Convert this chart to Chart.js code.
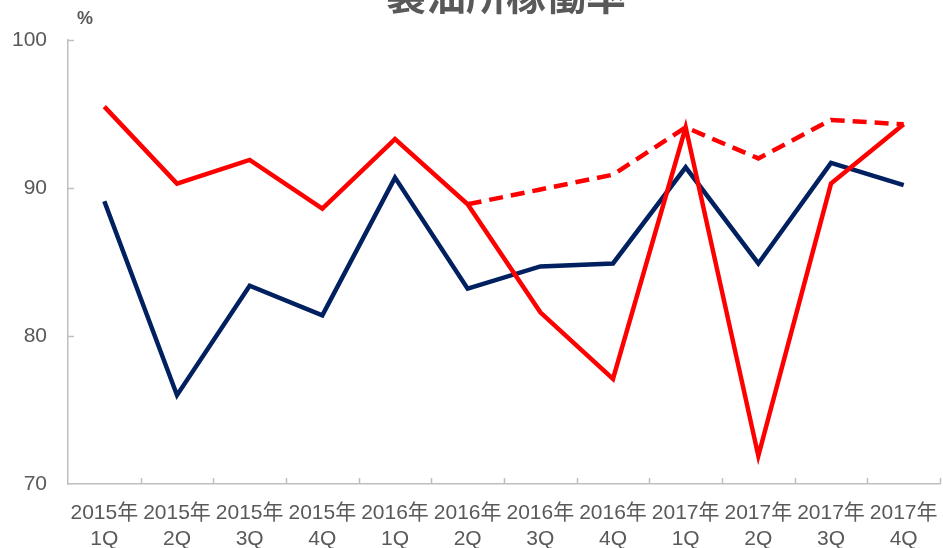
<!DOCTYPE html>
<html>
<head>
<meta charset="utf-8">
<script src="https://cdn.jsdelivr.net/npm/chart.js@4/dist/chart.umd.min.js"></script>
<style>
    body { margin: 0; background: #fff; }
    #wrap { width: 943px; height: 548px; }
</style>
</head>
<body>
<div id="wrap"><canvas id="chart" width="943" height="548"></canvas></div>
<script>
// --- Data ---
const TITLE = '製油所稼働率';
const UNIT = '%';
const years = ['2015年', '2015年', '2015年', '2015年', '2016年', '2016年', '2016年', '2016年', '2017年', '2017年', '2017年', '2017年'];
const quarters = ['1Q', '2Q', '3Q', '4Q', '1Q', '2Q', '3Q', '4Q', '1Q', '2Q', '3Q', '4Q'];
const redSolid = [95.5, 90.3, 91.9, 88.6, 93.3, 88.9, 81.6, 77.1, 94.1, 71.9, 90.3, 94.3];
const redDashed = [null, null, null, null, null, 88.9, 89.9, 90.9, 94.1, 92.0, 94.6, 94.3];
const navy = [89.1, 76.0, 83.4, 81.4, 90.7, 83.2, 84.7, 84.9, 91.4, 84.9, 91.7, 90.2];
const yTicks = [70, 80, 90, 100];

const GRAY = '#595959';
const AXIS = '#bfbfbf';
const FONT = '"Liberation Sans", Arial, "Noto Sans CJK JP", sans-serif';

// --- Plugin: title, unit label and inner tick marks ---
const decorations = {
    id: 'decorations',
    afterDraw(chart) {
        const ctx = chart.ctx;
        const x = chart.scales.x;
        const y = chart.scales.y;
        ctx.save();

        // Title (cut off at the top as in the source)
        ctx.fillStyle = GRAY;
        ctx.textAlign = 'center';
        ctx.textBaseline = 'alphabetic';
        ctx.font = 'bold 40px "Noto Sans CJK JP", sans-serif';
        ctx.fillText(TITLE, 506, 10);

        // Unit
        ctx.font = 'bold 18px ' + FONT;
        ctx.fillText(UNIT, 85, 24);

        // Inner ticks
        ctx.strokeStyle = AXIS;
        ctx.lineWidth = 1.5;
        ctx.beginPath();
        yTicks.forEach(v => {
            if (v === y.min) return;
            const py = Math.round(y.getPixelForValue(v)) + 0.5;
            ctx.moveTo(x.left, py);
            ctx.lineTo(x.left + 6, py);
        });
        for (let i = 1; i <= years.length; i++) {
            const px = i < years.length
                ? (x.getPixelForValue(i - 1) + x.getPixelForValue(i)) / 2
                : x.right;
            ctx.moveTo(Math.round(px) + 0.5, y.bottom);
            ctx.lineTo(Math.round(px) + 0.5, y.bottom - 6);
        }
        ctx.stroke();
        ctx.restore();
    }
};

// --- Chart ---
const ctx = document.getElementById('chart').getContext('2d');
new Chart(ctx, {
    type: 'line',
    data: {
        labels: years.map((yr, i) => [yr, quarters[i]]),
        datasets: [
            {
                data: redSolid,
                borderColor: '#ff0000',
                borderWidth: 4.5,
                pointRadius: 0,
                tension: 0,
                order: 0
            },
            {
                data: redDashed,
                borderColor: '#ff0000',
                borderWidth: 4.5,
                borderDash: [14, 8],
                pointRadius: 0,
                tension: 0,
                spanGaps: false,
                order: 1
            },
            {
                data: navy,
                borderColor: '#002060',
                borderWidth: 4.5,
                pointRadius: 0,
                tension: 0,
                order: 2
            }
        ]
    },
    options: {
        responsive: false,
        animation: false,
        layout: { padding: { top: 40, right: 3, left: 0, bottom: 0 } },
        plugins: {
            legend: { display: false },
            tooltip: { enabled: false }
        },
        scales: {
            x: {
                offset: true,
                grid: { display: false, drawTicks: false },
                border: { display: true, color: AXIS, width: 1.5 },
                ticks: {
                    color: GRAY,
                    font: { family: FONT, size: 21, lineHeight: 1.2 },
                    padding: 17,
                    maxRotation: 0,
                    autoSkip: false
                },
                afterFit(scale) {
                    scale.height = 64;
                    scale.paddingLeft = 0;
                    scale.paddingRight = 0;
                }
            },
            y: {
                min: 70,
                max: 100,
                grid: { display: false, drawTicks: false },
                border: { display: true, color: AXIS, width: 1.5 },
                ticks: {
                    stepSize: 10,
                    color: GRAY,
                    font: { family: FONT, size: 21 },
                    padding: 21
                },
                afterFit(scale) { scale.width = 68; }
            }
        }
    },
    plugins: [decorations]
});
</script>
</body>
</html>
